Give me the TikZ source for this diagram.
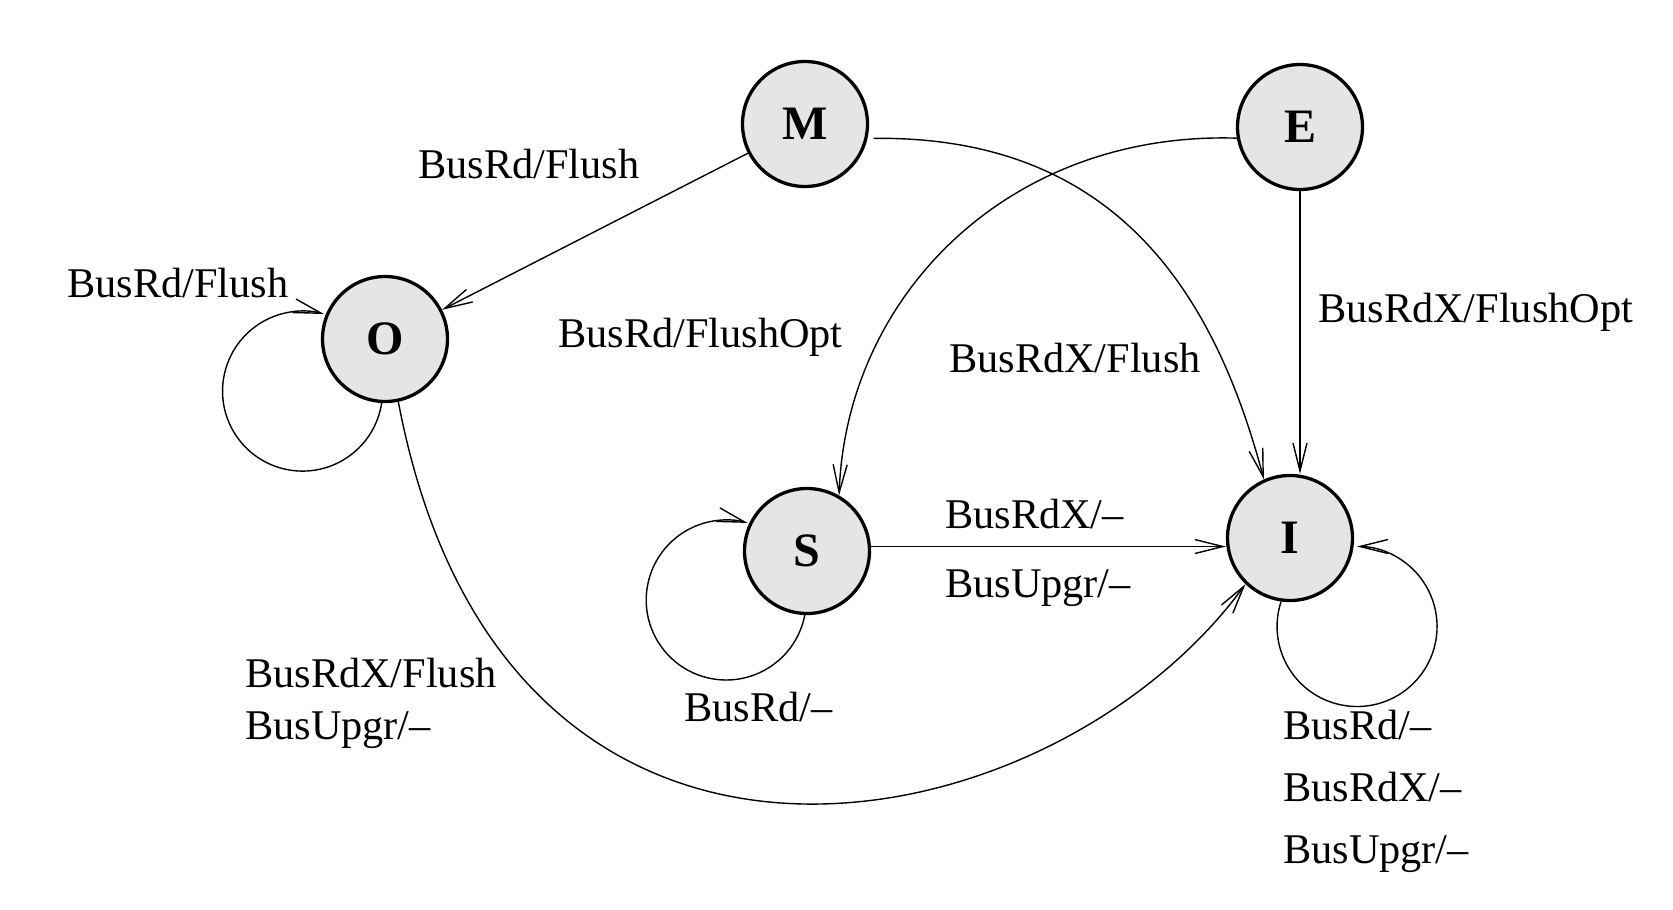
\documentclass[tikz,border=0pt]{standalone}
\usepackage{fontspec}
\setmainfont{Liberation Serif}
\usetikzlibrary{arrows.meta}
\begin{document}
\begin{tikzpicture}[x=1pt,y=1pt,
  state/.style={circle, draw, line width=3.3pt, fill=black!10, minimum size=125pt,
    inner sep=0pt, font=\fontsize{48}{50}\selectfont\bfseries},
  lbl/.style={anchor=base west, inner sep=0pt, font=\fontsize{42.3}{50}\selectfont},
  trans/.style={line width=1.4pt, -{Straight Barb[length=28pt,width=14pt]}},
]
\useasboundingbox (0,0) rectangle (1673,-910);

% states
\node[state] (M) at (805,-124) {M};
\node[state] (E) at (1300,-127) {E};
\node[state] (O) at (385,-339) {O};
\node[state] (S) at (807,-551) {S};
\node[state] (I) at (1290,-538) {I};

% transitions
\draw[trans] (M) -- (O);
\draw[trans, shorten <=6pt] (M.-13) .. controls +(250,3) and +(-49,184) .. (I.114);
\draw[trans] (E.190) .. controls +(-228,7) and +(7,200) .. (S.60);
\draw[trans] (E.south) -- (E.south |- I.north);
\draw[trans] (S.4) -- (S.4 -| I.west);
\draw[trans] (O.-78) .. controls +(106,-560) and +(-195,-267) .. (I.-134);

% self loops
\draw[trans] (O.-93) arc[start angle=-8.6, end angle=-285.5, radius=80];
\draw[trans] (S.-92.5) arc[start angle=-10.9, end angle=-285.6, radius=80];
\draw[trans] (I.-98) arc[start angle=161.8, end angle=450, radius=80];

% labels
\node[lbl] (l1) at (418,-178) {BusRd/Flush};
\node[lbl] (l2) at (67,-297) {BusRd/Flush};
\node[lbl] (l3) at (558,-347) {BusRd/FlushOpt};
\node[lbl] (l4) at (949,-372) {BusRdX/Flush};
\node[lbl] (l5) at (1318,-322) {BusRdX/FlushOpt};
\node[lbl] (l6) at (945,-528) {BusRdX/–};
\node[lbl] (l7) at (945,-597) {BusUpgr/–};
\node[lbl] (l8) at (245,-687) {BusRdX/Flush};
\node[lbl] (l9) at (245,-739) {BusUpgr/–};
\node[lbl] (l10) at (684,-721) {BusRd/–};
\node[lbl] (l11) at (1283,-739) {BusRd/–};
\node[lbl] (l12) at (1283,-801) {BusRdX/–};
\node[lbl] (l13) at (1283,-863) {BusUpgr/–};
\end{tikzpicture}
\end{document}
